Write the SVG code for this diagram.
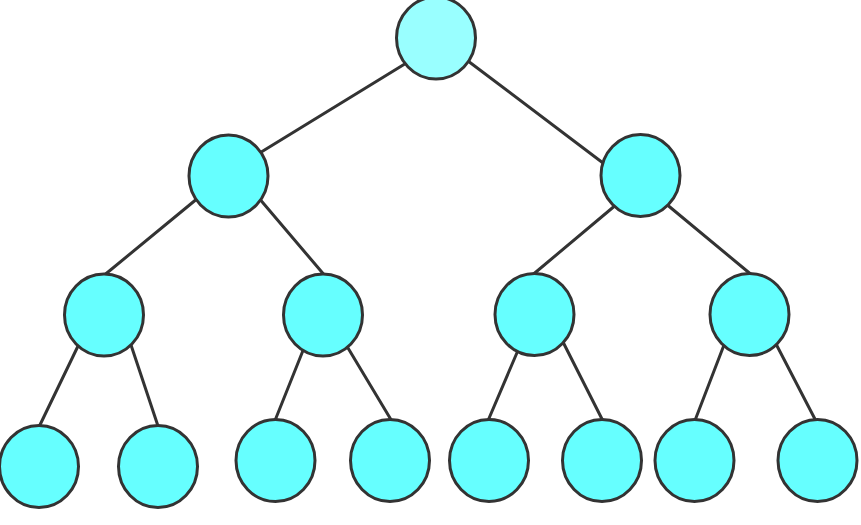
<svg xmlns="http://www.w3.org/2000/svg" width="861" height="525" viewBox="0 0 861 525">
<style>
.n{fill:#66ffff;stroke:#333;stroke-width:3}
.r{fill:#99ffff}
.e line{stroke:#333;stroke-width:3;stroke-linecap:round}
</style>
<rect width="861" height="525" fill="#fff"/>
<g id="connectors" class="e">
<line x1="408" y1="62" x2="258" y2="154"/>
<line x1="464" y1="58" x2="607" y2="166"/>
<line x1="198" y1="198" x2="102" y2="277"/>
<line x1="258" y1="197" x2="326" y2="277"/>
<line x1="617" y1="204" x2="530" y2="277"/>
<line x1="665" y1="203" x2="753" y2="276"/>
<line x1="79" y1="344" x2="38" y2="429"/>
<line x1="130" y1="342" x2="159" y2="429"/>
<line x1="304" y1="348" x2="274" y2="423"/>
<line x1="345" y1="343" x2="393" y2="423"/>
<line x1="519" y1="348" x2="487" y2="423"/>
<line x1="563" y1="342" x2="604" y2="423"/>
<line x1="724" y1="345" x2="694" y2="423"/>
<line x1="775" y1="342" x2="817" y2="423"/>
</g>
<g id="n0"><ellipse class="n r" cx="436" cy="38" rx="39.5" ry="41"/></g>
<g id="n1"><ellipse class="n" cx="228.5" cy="176" rx="39.5" ry="41"/></g>
<g id="n2"><ellipse class="n" cx="640.5" cy="175.5" rx="39.5" ry="41"/></g>
<g id="n3"><ellipse class="n" cx="104" cy="315" rx="39.5" ry="41"/></g>
<g id="n4"><ellipse class="n" cx="323" cy="315" rx="39.5" ry="41"/></g>
<g id="n5"><ellipse class="n" cx="534.5" cy="314.5" rx="39.5" ry="41"/></g>
<g id="n6"><ellipse class="n" cx="749.5" cy="314.5" rx="39.5" ry="41"/></g>
<g id="n7"><ellipse class="n" cx="39" cy="466.5" rx="39.5" ry="41"/></g>
<g id="n8"><ellipse class="n" cx="158" cy="466.5" rx="39.5" ry="41"/></g>
<g id="n9"><ellipse class="n" cx="275.5" cy="460.5" rx="39.5" ry="41"/></g>
<g id="n10"><ellipse class="n" cx="390" cy="460.5" rx="39.5" ry="41"/></g>
<g id="n11"><ellipse class="n" cx="489" cy="460.5" rx="39.5" ry="41"/></g>
<g id="n12"><ellipse class="n" cx="602" cy="460.5" rx="39.5" ry="41"/></g>
<g id="n13"><ellipse class="n" cx="694.5" cy="460.5" rx="39.5" ry="41"/></g>
<g id="n14"><ellipse class="n" cx="817.5" cy="460.5" rx="39.5" ry="41"/></g>
</svg>
